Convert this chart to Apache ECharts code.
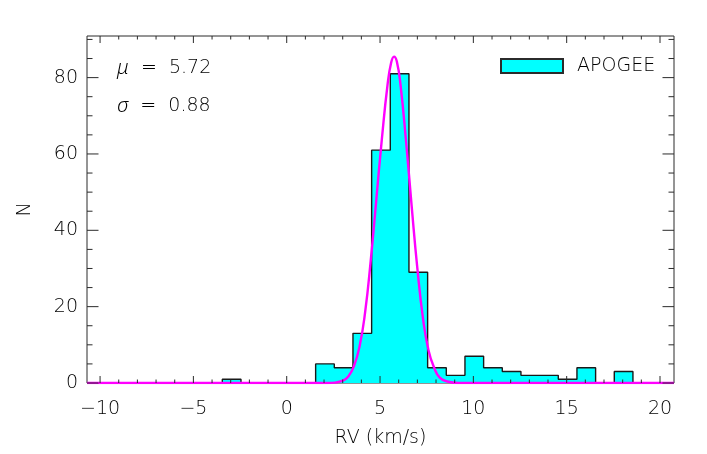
<!DOCTYPE html>
<html>
<head>
<meta charset="utf-8">
<script src="https://cdn.jsdelivr.net/npm/echarts@6/dist/echarts.min.js"></script>
<style>
  html, body { margin: 0; padding: 0; background: #fff; }
  #chart { width: 707px; height: 454px; }
</style>
</head>
<body>
<div id="chart"></div>
<script>
// histogram of RV (bin left edges, counts per bin)
var binLeft = [-3.45, -2.45, -1.45, -0.45, 0.55, 1.55, 2.55, 3.55, 4.55, 5.55, 6.55,
               7.55, 8.55, 9.55, 10.55, 11.55, 12.55, 13.55, 14.55, 15.55, 16.55, 17.55];
var binCount = [1, 0, 0, 0, 0, 5, 4, 13, 61, 81, 29, 4, 2, 7, 4, 3, 2, 2, 1, 4, 0, 3];
var binWidth = 1.0;

// gaussian fit
var gaussX = [-10.7, 2.2, 2.6, 3.0, 3.3, 3.6, 3.9, 4.2, 4.5, 4.8, 5.1, 5.4, 5.6, 5.75,
              5.9, 6.1, 6.4, 6.7, 7.0, 7.3, 7.6, 7.9, 8.2, 8.6, 9.2, 20.75];
var gaussY = [0, 0, 0.1, 0.6, 1.7, 4.4, 9.5, 18.5, 32, 48, 64, 78, 84, 85.5,
              84.2, 78, 63, 46, 30, 17, 8.5, 4.0, 1.4, 0.4, 0, 0];

// axes
var xMin = -10.7, xMax = 20.75, yMin = 0, yMax = 90.9;
var xLabels = [-10, -5, 0, 5, 10, 15, 20];
var yLabels = [0, 20, 40, 60, 80];
var xTicks = [-10, -9, -8, -7, -6, -5, -4, -3, -2, -1, 0, 1, 2, 3, 4, 5, 6, 7, 8, 9, 10,
              11, 12, 13, 14, 15, 16, 17, 18, 19, 20];
var yTicks = [0, 5, 10, 15, 20, 25, 30, 35, 40, 45, 50, 55, 60, 65, 70, 75, 80, 85, 90];

var muText = '5.72';
var sigmaText = '0.88';

var FONT = 'DejaVu Sans';
var WEIGHT = 200;
var INK = '#2b2b2b';
var TXT = '#000';

function histPoints() {
    var pts = [[binLeft[0], 0]];
    for (var i = 0; i < binLeft.length; i++) {
        pts.push([binLeft[i], binCount[i]]);
    }
    pts.push([binLeft[binLeft.length - 1] + binWidth, 0]);
    return pts;
}

// little inward tick marks on all four sides
function xTickItem(params, api) {
    var v = api.value(0);
    var major = v % 5 === 0;
    var len = major ? 7 : 3.5;
    var b = api.coord([v, yMin]);
    var t = api.coord([v, yMax]);
    var st = { stroke: INK, lineWidth: 1 };
    return {
        type: 'group',
        children: [
            { type: 'line', shape: { x1: b[0], y1: b[1], x2: b[0], y2: b[1] - len }, style: st },
            { type: 'line', shape: { x1: t[0], y1: t[1], x2: t[0], y2: t[1] + len }, style: st }
        ]
    };
}

function yTickItem(params, api) {
    var v = api.value(1);
    var major = v % 20 === 0;
    var len = major ? 11.5 : 5.5;
    var l = api.coord([xMin, v]);
    var r = api.coord([xMax, v]);
    var st = { stroke: INK, lineWidth: 1 };
    return {
        type: 'group',
        children: [
            { type: 'line', shape: { x1: l[0], y1: l[1], x2: l[0] + len, y2: l[1] }, style: st },
            { type: 'line', shape: { x1: r[0], y1: r[1], x2: r[0] - len, y2: r[1] }, style: st }
        ]
    };
}

var greek = { fontFamily: 'Noto Sans', fontWeight: 300, fontSize: 20, fontStyle: 'italic', color: TXT };

var myChart = echarts.init(document.getElementById('chart'));
var option = {
    animation: false,
    backgroundColor: '#fff',
    grid: {
        left: 87, right: 33, top: 36, bottom: 71,
        show: true, borderColor: INK, borderWidth: 1, backgroundColor: 'transparent'
    },
    legend: {
        data: [{ name: 'APOGEE', icon: 'rect' }],
        left: 500, top: 56,
        padding: 0,
        itemWidth: 62, itemHeight: 14,
        textStyle: { fontFamily: FONT, fontWeight: WEIGHT, fontSize: 19, color: TXT, padding: [0, 0, 0, 9], lineHeight: 20 }
    },
    xAxis: {
        type: 'value', min: xMin, max: xMax,
        name: 'RV (km/s)', nameLocation: 'middle', nameGap: 46,
        nameTextStyle: { fontFamily: FONT, fontWeight: WEIGHT, fontSize: 19, color: TXT },
        axisLine: { show: false },
        axisTick: { show: false },
        splitLine: { show: false },
        axisLabel: {
            customValues: xLabels, margin: 17,
            fontFamily: FONT, fontWeight: WEIGHT, fontSize: 19, color: TXT,
            formatter: function (v) { return v < 0 ? '\u2212' + (-v) : String(v); }
        }
    },
    yAxis: {
        type: 'value', min: yMin, max: yMax,
        name: 'N', nameLocation: 'middle', nameGap: 52, nameRotate: 90,
        nameTextStyle: { fontFamily: FONT, fontWeight: WEIGHT, fontSize: 19, color: TXT },
        axisLine: { show: false },
        axisTick: { show: false },
        splitLine: { show: false },
        axisLabel: {
            customValues: yLabels, margin: 9,
            fontFamily: FONT, fontWeight: WEIGHT, fontSize: 19, color: TXT
        }
    },
    graphic: [
        {
            type: 'text', x: 117, y: 68,
            style: {
                text: '{g|\u03bc}  =  ' + muText,
                fontFamily: FONT, fontWeight: WEIGHT, fontSize: 19, fill: TXT, verticalAlign: 'middle',
                rich: { g: greek }
            }
        },
        {
            type: 'text', x: 117, y: 106,
            style: {
                text: '{g|\u03c3}  =  ' + sigmaText,
                fontFamily: FONT, fontWeight: WEIGHT, fontSize: 19, fill: TXT, verticalAlign: 'middle',
                rich: { g: greek }
            }
        }
    ],
    series: [
        {
            // legend entry only
            name: 'APOGEE', type: 'bar', data: [],
            itemStyle: { color: '#00ffff', borderColor: INK, borderWidth: 1 }
        },
        {
            type: 'line', step: 'end', symbol: 'none',
            data: histPoints(),
            lineStyle: { color: '#1a1a1a', width: 1.4 },
            areaStyle: { color: '#00ffff', opacity: 1 },
            z: 2
        },
        {
            type: 'line', symbol: 'none', smooth: 0.5,
            data: gaussX.map(function (x, i) { return [x, gaussY[i]]; }),
            lineStyle: { color: '#ff00ff', width: 2.4 },
            z: 3
        },
        {
            type: 'custom', renderItem: xTickItem, silent: true, z: 4,
            data: xTicks.map(function (v) { return [v, yMin]; })
        },
        {
            type: 'custom', renderItem: yTickItem, silent: true, z: 4,
            data: yTicks.map(function (v) { return [xMin, v]; })
        }
    ]
};
myChart.setOption(option);
</script>
</body>
</html>
